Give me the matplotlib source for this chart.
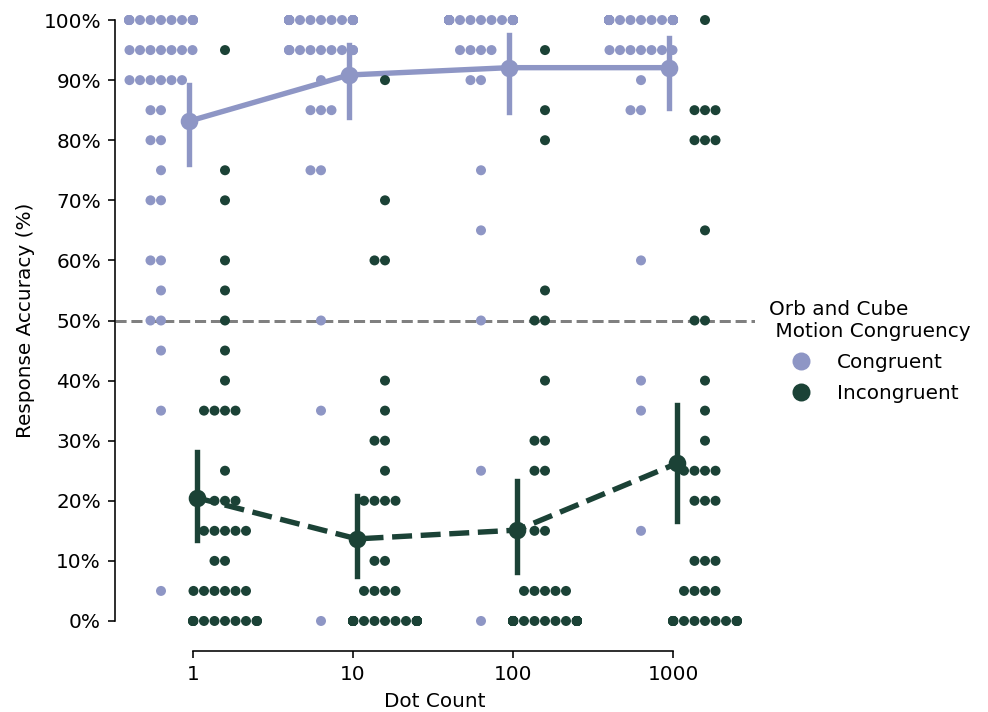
import numpy as np
import pandas as pd
import matplotlib
matplotlib.use('Agg')
import matplotlib.pyplot as plt
import seaborn as sns
import seaborn.categorical as sns_cat
from matplotlib.lines import Line2D
from matplotlib.ticker import PercentFormatter

# accuracy levels (%) and how many participants fall on each level
levels = list(range(0, 105, 5))
dot_counts = [1, 10, 100, 1000]
groups = ['Congruent', 'Incongruent']

cong_1 = [0, 1, 0, 0, 0, 0, 0, 1, 0, 1, 2, 1, 2, 0, 2, 1, 2, 2, 6, 7, 13]
cong_10 = [1, 0, 0, 0, 0, 0, 0, 1, 0, 0, 1, 0, 0, 0, 0, 2, 0, 3, 1, 11, 21]
cong_100 = [1, 0, 0, 0, 0, 1, 0, 0, 0, 0, 1, 0, 0, 1, 0, 1, 0, 0, 2, 4, 30]
cong_1000 = [0, 0, 0, 1, 0, 0, 0, 1, 1, 0, 0, 0, 1, 0, 0, 0, 0, 2, 1, 7, 27]
incg_1 = [12, 6, 2, 5, 3, 1, 0, 4, 1, 1, 1, 1, 1, 0, 1, 1, 0, 0, 0, 1, 0]
incg_10 = [22, 4, 2, 0, 4, 1, 2, 1, 1, 0, 0, 0, 2, 0, 1, 0, 0, 0, 1, 0, 0]
incg_100 = [23, 5, 0, 2, 0, 2, 2, 0, 1, 0, 2, 1, 0, 0, 0, 0, 1, 1, 0, 1, 0]
incg_1000 = [14, 4, 3, 0, 3, 4, 1, 1, 1, 0, 2, 0, 0, 1, 0, 0, 3, 3, 0, 0, 1]

colors = ['#8E96C5', '#1B4236']

# build long dataframe
rows = []
tables = {'Congruent': [cong_1, cong_10, cong_100, cong_1000],
          'Incongruent': [incg_1, incg_10, incg_100, incg_1000]}
for g in groups:
    for dc, cnts in zip(dot_counts, tables[g]):
        for v in np.repeat(levels, cnts):
            rows.append((dc, v, g))
df = pd.DataFrame(rows, columns=['Dot Count', 'Accuracy', 'Congruency'])

# dodged swarms: keep each hue swarm inside its own half of the category (old seaborn behaviour)
_bee_init = sns_cat.Beeswarm.__init__
def _half_width_init(self, orient="x", width=0.8, warn_thresh=.05):
    _bee_init(self, orient=orient, width=width / 2, warn_thresh=warn_thresh)
sns_cat.Beeswarm.__init__ = _half_width_init

fig = plt.figure(figsize=(988 / 144, 712 / 144), dpi=144)
ax = fig.add_axes([115 / 988, 1 - 639 / 712, 640 / 988, 637 / 712])

ax.axhline(50, color='gray', linestyle='--', linewidth=1.5, zorder=0)  # chance line

# dot counts are evenly spaced categories (log steps)
sns.swarmplot(data=df, x='Dot Count', y='Accuracy', hue='Congruency', hue_order=groups,
              order=dot_counts, palette=colors, dodge=True, size=5, legend=False,
              warn_thresh=1, ax=ax)
sns.pointplot(data=df, x='Dot Count', y='Accuracy', hue='Congruency', hue_order=groups,
              order=dot_counts, palette=colors, dodge=True, markers='o',
              linestyles=['-', '--'], errorbar=('ci', 95), seed=3, legend=False, ax=ax)

ax.set_xlim(-0.4875, 3.5125)
ax.set_ylim(-3, 103)
ax.set_xticks(range(len(dot_counts)))
ax.set_xticklabels([str(d) for d in dot_counts])
ax.set_yticks(range(0, 101, 10))
ax.yaxis.set_major_formatter(PercentFormatter(decimals=0))

ax.spines['top'].set_visible(False)
ax.spines['right'].set_visible(False)
ax.spines['bottom'].set_position(('outward', 6))
ax.spines['bottom'].set_bounds(0, 3)
ax.spines['left'].set_bounds(0, 100)

ax.set_xlabel('Dot Count')
ax.set_ylabel('Response Accuracy (%)')

handles = [Line2D([], [], marker='o', linestyle='', color=c, markersize=8) for c in colors]
ax.legend(handles, groups, title='Orb and Cube\n Motion Congruency', loc='center left',
          bbox_to_anchor=(0.994, 0.452), frameon=False, labelspacing=0.6)

fig.savefig('out.png', dpi=144)
